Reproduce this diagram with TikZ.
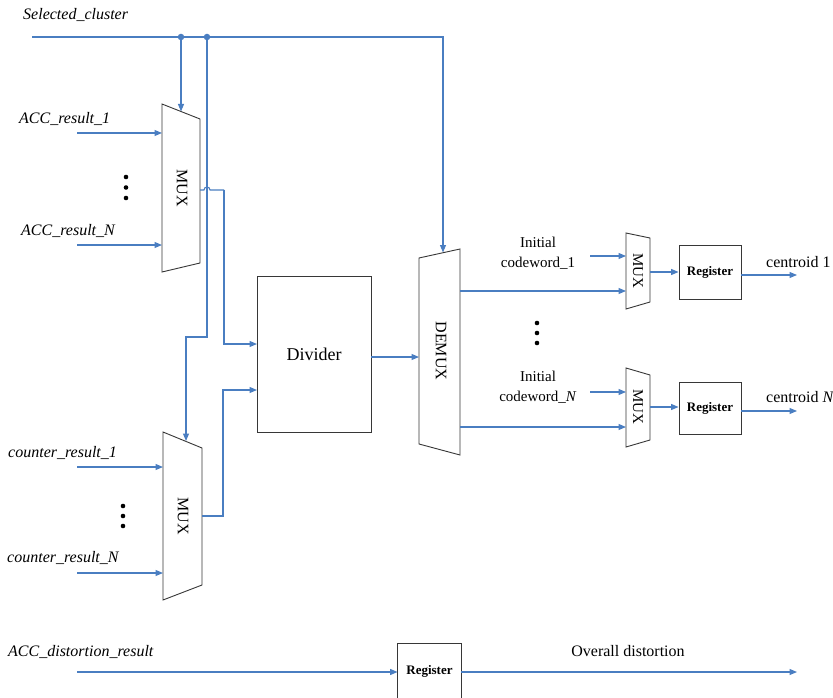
\documentclass[tikz,border=0pt]{standalone}
\usepackage{fontspec}
\setmainfont{Liberation Serif}
\usetikzlibrary{arrows.meta}
\definecolor{wireblue}{RGB}{74,126,193}
\definecolor{edgegray}{RGB}{55,55,55}
\begin{document}
\begin{tikzpicture}[x=1pt,y=-1pt,
  wire/.style={draw=wireblue, line width=1.1pt},
  arr/.style={wire, -{Triangle[length=7.5pt,width=6pt]}},
  blk/.style={draw=edgegray, line width=0.9pt, fill=white},
  lab/.style={font=\fontsize{16}{18}\selectfont\itshape, inner sep=0pt, anchor=west},
  txt/.style={font=\fontsize{16}{18}\selectfont, inner sep=0pt},
  regbox/.style={draw=edgegray, line width=0.9pt, minimum width=62pt, minimum height=54pt, inner sep=0pt, font=\fontsize{13}{15}\selectfont\bfseries},
  elldot/.style={circle, fill=black, inner sep=0pt, minimum size=4.6pt},
  junc/.style={circle, fill=wireblue, inner sep=0pt, minimum size=6.5pt}
]
\useasboundingbox (0,0) rectangle (833,698);
\fill[white] (0,0) rectangle (833,698);

% ---------- selected cluster bus ----------
\node[lab] (selc) at (23,15) {Selected\_cluster};
\coordinate (busL) at (32,37);
\coordinate (busR) at (443,37);
\coordinate (dmxtop) at (443,252.5);
\node[junc] (j1) at (181,37) {};
\node[junc] (j2) at (207,37) {};
\coordinate (m1top) at (181,111.5);
\coordinate (b1) at (207,337);
\coordinate (b2) at (186,337);
\coordinate (m2top) at (186,441);
\draw[arr] (busL) -- (busR) -- (dmxtop);
\draw[arr] (j1.center) -- (m1top);
\draw[arr] (j2.center) -- (b1) -- (b2) -- (m2top);

% ---------- upper MUX ----------
\draw[blk] (162,104) -- (200,119) -- (200,263) -- (162,272) -- cycle;
\node[txt, rotate=-90] (mux1) at (182,188) {MUX};
\node[lab] (acc1) at (19,119) {ACC\_result\_1};
\node[lab] (accn) at (21,231) {ACC\_result\_N};
\coordinate (a1s) at (77,133);
\coordinate (a1e) at (162,133);
\coordinate (ans) at (77,245);
\coordinate (ane) at (162,245);
\draw[arr] (a1s) -- (a1e);
\draw[arr] (ans) -- (ane);
\node[elldot] (ud1) at (126,177) {};
\node[elldot] (ud2) at (126,187.5) {};
\node[elldot] (ud3) at (126,198) {};

% ---------- lower MUX ----------
\draw[blk] (163,432) -- (202,448) -- (202,585) -- (163,600) -- cycle;
\node[txt, rotate=-90] (mux2) at (183,516) {MUX};
\node[lab] (cnt1) at (8,453) {counter\_result\_1};
\node[lab] (cntn) at (7,558) {counter\_result\_N};
\coordinate (c1s) at (77,467);
\coordinate (c1e) at (163,467);
\coordinate (cns) at (77,573);
\coordinate (cne) at (163,573);
\draw[arr] (c1s) -- (c1e);
\draw[arr] (cns) -- (cne);
\node[elldot] (ld1) at (123,506) {};
\node[elldot] (ld2) at (123,516) {};
\node[elldot] (ld3) at (123,526) {};

% ---------- divider ----------
\node[blk, minimum width=114pt, minimum height=156pt, inner sep=0pt, font=\fontsize{18}{20}\selectfont] (div) at (314,354) {Divider};
\coordinate (m1out) at (200,190);
\coordinate (hop) at (224,190);
\coordinate (m2out) at (202,516);
\coordinate (dvin1) at (257,344);
\coordinate (dvin2) at (257,390);
\draw[wire] (m1out) -- (204,190) arc[start angle=180, end angle=0, radius=3pt] -- (hop);
\draw[arr] (hop) |- (dvin1);
\draw[arr] (m2out) -- (223,516) |- (dvin2);

% ---------- DEMUX ----------
\draw[blk] (419,258) -- (460,249) -- (460,455) -- (419,444) -- cycle;
\node[txt, rotate=-90] (dmx) at (441,351) {DEMUX};
\coordinate (dvout) at (371,357);
\coordinate (dmxin) at (419,357);
\draw[arr] (dvout) -- (dmxin);

% ---------- output branch 1 ----------
\draw[blk] (626,233) -- (650,238) -- (650,302) -- (626,309) -- cycle;
\node[txt, rotate=-90, font=\fontsize{15}{17}\selectfont] (sm1) at (638,271) {MUX};
\node[txt, align=center, font=\fontsize{15}{20}\selectfont] (ic1) at (538,253) {Initial\\codeword\_1};
\coordinate (o1s) at (460,291);
\coordinate (o1e) at (626,291);
\coordinate (i1s) at (590,256);
\coordinate (i1e) at (626,256);
\draw[arr] (o1s) -- (o1e);
\draw[arr] (i1s) -- (i1e);
\node[regbox] (reg1) at (710,272) {Register};
\coordinate (sm1out) at (650,272);
\draw[arr] (sm1out) -- (reg1.west);
\coordinate (r1o) at (741,275);
\coordinate (r1e) at (797,275);
\draw[arr] (r1o) -- (r1e);
\node[txt, anchor=west] (cen1) at (766,262) {centroid 1};

% middle dots
\node[elldot] (md1) at (537,323) {};
\node[elldot] (md2) at (537,333) {};
\node[elldot] (md3) at (537,343) {};

% ---------- output branch N ----------
\draw[blk] (626,368) -- (650,375) -- (650,440) -- (626,447) -- cycle;
\node[txt, rotate=-90, font=\fontsize{15}{17}\selectfont] (sm2) at (638,407) {MUX};
\node[txt, align=center, font=\fontsize{15}{20}\selectfont] (icn) at (538,387) {Initial\\codeword\_\textit{N}};
\coordinate (o2s) at (460,427);
\coordinate (o2e) at (626,427);
\coordinate (i2s) at (590,392);
\coordinate (i2e) at (626,392);
\draw[arr] (o2s) -- (o2e);
\draw[arr] (i2s) -- (i2e);
\node[regbox, minimum height=52pt] (reg2) at (710,408) {Register};
\coordinate (sm2out) at (650,407);
\draw[arr] (sm2out) -- (sm2out -| reg2.west);
\coordinate (r2o) at (741,411);
\coordinate (r2e) at (797,411);
\draw[arr] (r2o) -- (r2e);
\node[txt, anchor=west] (cenn) at (766,397) {centroid \textit{N}};

% ---------- distortion ----------
\node[lab] (accd) at (8,652) {ACC\_distortion\_result};
\node[regbox, draw=none, minimum width=63pt] (reg3) at (429.5,671) {Register};
\draw[draw=edgegray, line width=0.9pt] (reg3.south west) |- (reg3.north east) -- (reg3.south east);
\coordinate (ds) at (77,672);
\draw[arr] (ds) -- (ds -| reg3.west);
\coordinate (de) at (797,672);
\draw[arr] (de -| reg3.east) -- (de);
\node[txt] (ovd) at (628,651) {Overall distortion};
\end{tikzpicture}
\end{document}
